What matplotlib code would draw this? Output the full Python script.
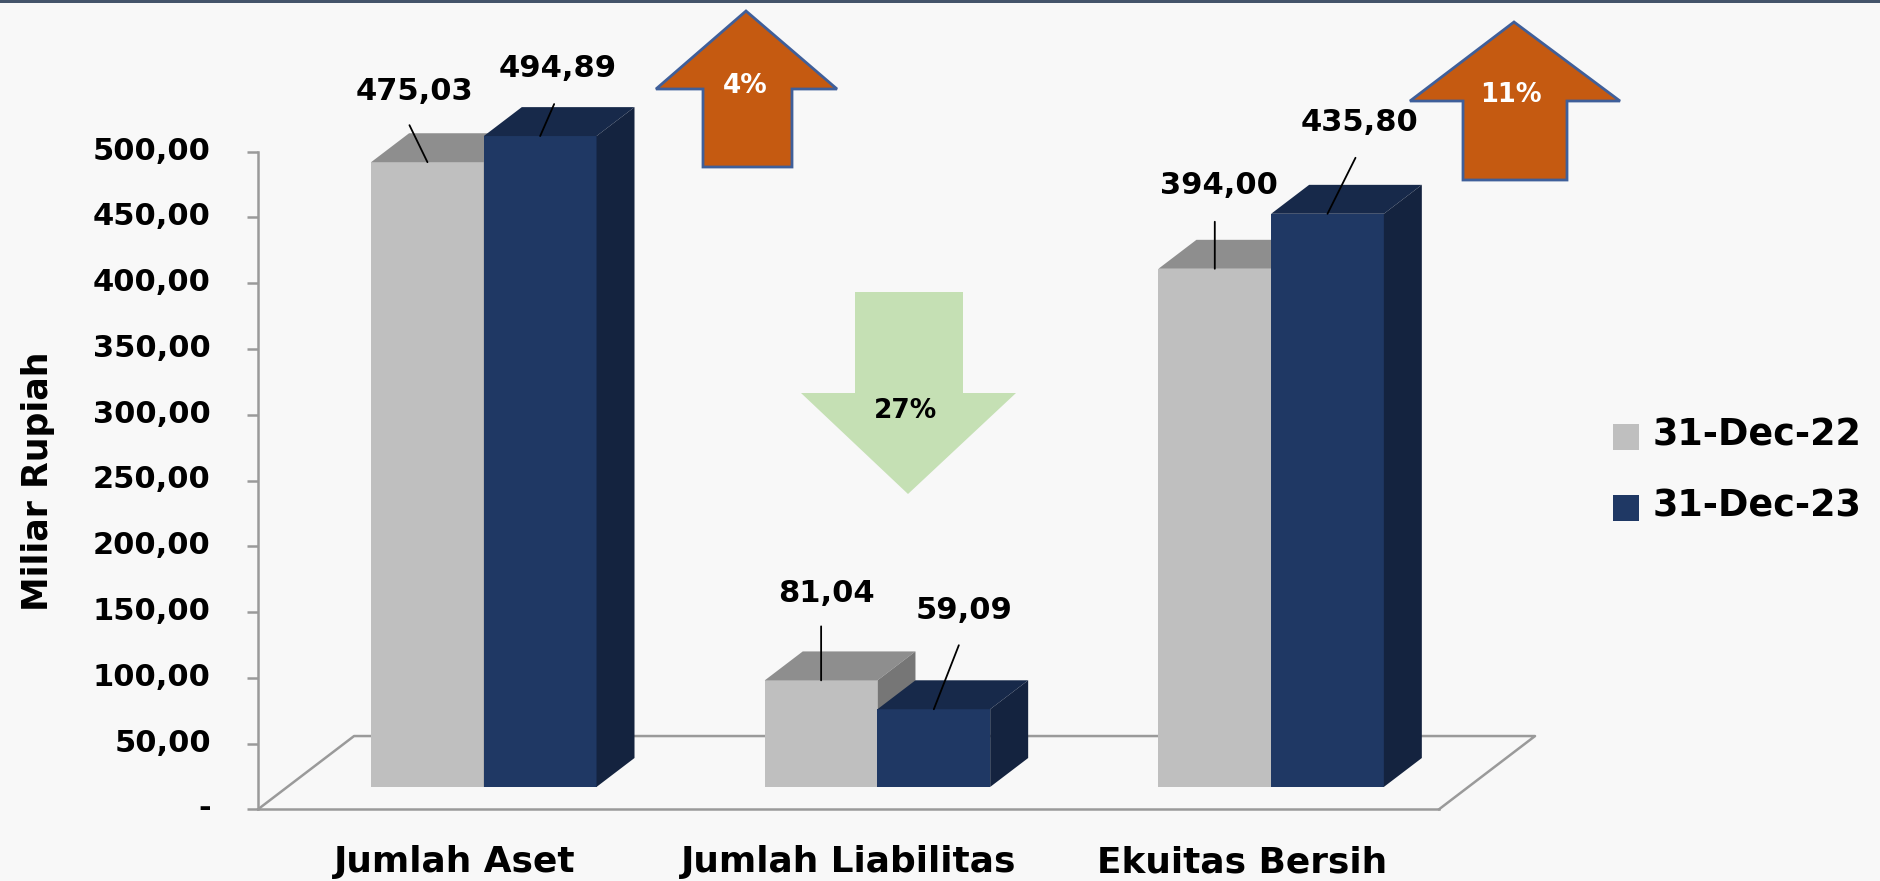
import matplotlib
matplotlib.use("Agg")
import matplotlib.pyplot as plt
from matplotlib.patches import Polygon, Rectangle
from matplotlib.transforms import ScaledTranslation

categories = ["Jumlah Aset", "Jumlah Liabilitas", "Ekuitas Bersih"]
series_names = ["31-Dec-22", "31-Dec-23"]
values_2022 = [475.03, 81.04, 394.00]
values_2023 = [494.89, 59.09, 435.80]
y_ticks = [0, 50, 100, 150, 200, 250, 300, 350, 400, 450, 500]
y_tick_labels = ["-", "50,00", "100,00", "150,00", "200,00", "250,00",
                 "300,00", "350,00", "400,00", "450,00", "500,00"]
changes = ["4%", "27%", "11%"]

W, H = 1880, 881
BG = "#F8F8F8"
AXIS_COLOR = "#9A9A9A"
GRAY = ("#BFBFBF", "#8E8E8E", "#767676")
NAVY = ("#1F3864", "#17294A", "#14233F")
ORANGE = "#C55A11"
ARROW_EDGE = "#3F5F9A"
GREEN = "#C5E0B4"

# 3D look of the bars, in data units
BAR_W = 0.2863
BAR_SHIFT = 0.0736
BASE = 17.0
DEPTH_X = 0.0965
DEPTH_Y = 22.0
FLOOR_X = 0.244
FLOOR_Y = 55.7

# label and leader offsets from the top of each bar, in pixels
LABEL_OFFSETS = [[(-13, 71), (5, 87), (4, 83)], [(18, 68), (30, 99), (32, 91)]]
LEADER_OFFSETS = [[(-18, 37), (0, 54), (0, 47)], [(14, 32), (25, 64), (28, 56)]]

FONT = "DejaVu Sans"


def draw_bars(ax, values, offset, colors, label):

    '''
    Draws one series as boxes: front with ax.bar, top and side as polygons.
    '''

    xs = [i + BAR_SHIFT + offset for i in range(len(values))]
    bars = ax.bar(xs, values, BAR_W, bottom=BASE, color=colors[0], label=label,
                  clip_on=False, zorder=3)

    for x, v in zip(xs, values):

        left, right = x - BAR_W / 2, x + BAR_W / 2
        top = BASE + v

        ax.add_patch(Polygon(
            [(left, top), (right, top), (right + DEPTH_X, top + DEPTH_Y), (left + DEPTH_X, top + DEPTH_Y)],
            facecolor=colors[1], edgecolor="none", clip_on=False, zorder=3))
        ax.add_patch(Polygon(
            [(right, BASE), (right + DEPTH_X, BASE + DEPTH_Y), (right + DEPTH_X, top + DEPTH_Y), (right, top)],
            facecolor=colors[2], edgecolor="none", clip_on=False, zorder=3))

    return bars, xs


def label_bars(ax, xs, values, label_offsets, leader_offsets):

    '''
    Writes the value labels and their leader lines.
    '''

    for x, v, lab, lead in zip(xs, values, label_offsets, leader_offsets):

        ax.annotate("", xy=(x, BASE + v), xytext=lead, textcoords="offset pixels",
                    arrowprops=dict(arrowstyle="-", color="black", lw=1.3, shrinkA=0, shrinkB=0),
                    zorder=6, annotation_clip=False)
        ax.annotate(f"{v:.2f}".replace(".", ","), xy=(x, BASE + v), xytext=lab,
                    textcoords="offset pixels", ha="center", va="center",
                    fontsize=22, fontweight="bold", family=FONT, zorder=6, annotation_clip=False)


fig = plt.figure(figsize=(W / 100, H / 100), dpi=100, facecolor=BG)
fig.patches.append(Rectangle((0, 1 - 3 / H), 1, 3 / H, transform=fig.transFigure, facecolor="#44546A", edgecolor="none"))

ax = fig.add_axes([258 / W, (H - 809.3) / H, 1181 / W, (809.3 - 151.7) / H])
ax.set_facecolor("none")
ax.set_xlim(-0.5, 2.5)
ax.set_ylim(0, 500)

for name in ["top", "right"]:
    ax.spines[name].set_visible(False)
for name in ["left", "bottom"]:
    ax.spines[name].set_color(AXIS_COLOR)
    ax.spines[name].set_linewidth(1.8)

# floor of the chart box
ax.plot([-0.5, -0.5 + FLOOR_X, 2.5 + FLOOR_X, 2.5], [0, FLOOR_Y, FLOOR_Y, 0],
        color=AXIS_COLOR, lw=1.8, clip_on=False, zorder=1)

bars_2022, xs_2022 = draw_bars(ax, values_2022, -BAR_W / 2, GRAY, series_names[0])
bars_2023, xs_2023 = draw_bars(ax, values_2023, BAR_W / 2, NAVY, series_names[1])

label_bars(ax, xs_2022, values_2022, LABEL_OFFSETS[0], LEADER_OFFSETS[0])
label_bars(ax, xs_2023, values_2023, LABEL_OFFSETS[1], LEADER_OFFSETS[1])

ax.set_yticks(y_ticks)
ax.set_yticklabels(y_tick_labels, fontsize=22, fontweight="bold", family=FONT)
ax.tick_params(axis="y", length=8, width=1.8, color=AXIS_COLOR, pad=26)
ax.set_xticks(range(len(categories)))
ax.set_xticklabels(categories, fontsize=25.8, fontweight="bold", family=FONT)
ax.tick_params(axis="x", length=0, pad=26)

# the tick labels sit a little above their ticks
lift = ScaledTranslation(0, 3.5 / 100, fig.dpi_scale_trans)
for t in ax.get_yticklabels():
    t.set_transform(t.get_transform() + lift)

fig.text(38 / W, 1 - 481 / H, "Miliar Rupiah", rotation=90, ha="center", va="center",
         fontsize=25, fontweight="bold", family=FONT)

leg = fig.legend(handles=[bars_2022, bars_2023], labels=series_names, loc="upper left",
                 bbox_to_anchor=(1613 / W, 1 - 421 / H), borderaxespad=0, borderpad=0, frameon=False,
                 handlelength=0.72, handleheight=0.72, handletextpad=0.36, labelspacing=0.93,
                 prop=dict(family=FONT, weight="bold", size=26.3))
for t in leg.get_texts():
    t.set_position((0, 4))

# change arrows, drawn on a pixel overlay
over = fig.add_axes([0, 0, 1, 1], zorder=5)
over.set_xlim(0, W)
over.set_ylim(H, 0)
over.axis("off")

over.add_patch(Polygon(
    [(746, 11), (837, 89), (792, 89), (792, 167), (703, 167), (703, 89), (656, 89)],
    facecolor=ORANGE, edgecolor=ARROW_EDGE, lw=2))
over.add_patch(Polygon(
    [(1514, 22), (1620, 101), (1567, 101), (1567, 180), (1463, 180), (1463, 101), (1410, 101)],
    facecolor=ORANGE, edgecolor=ARROW_EDGE, lw=2))
over.add_patch(Polygon(
    [(855, 292), (963, 292), (963, 393), (1016, 393), (908, 494), (801, 393), (855, 393)],
    facecolor=GREEN, edgecolor="none"))

over.text(745, 86, changes[0], color="white", ha="center", va="center", fontsize=19, fontweight="bold", family=FONT)
over.text(906, 411, changes[1], color="black", ha="center", va="center", fontsize=19, fontweight="bold", family=FONT)
over.text(1511, 95, changes[2], color="white", ha="center", va="center", fontsize=18.5, fontweight="bold", family=FONT)

fig.savefig("out.png", dpi=100, facecolor=BG)
